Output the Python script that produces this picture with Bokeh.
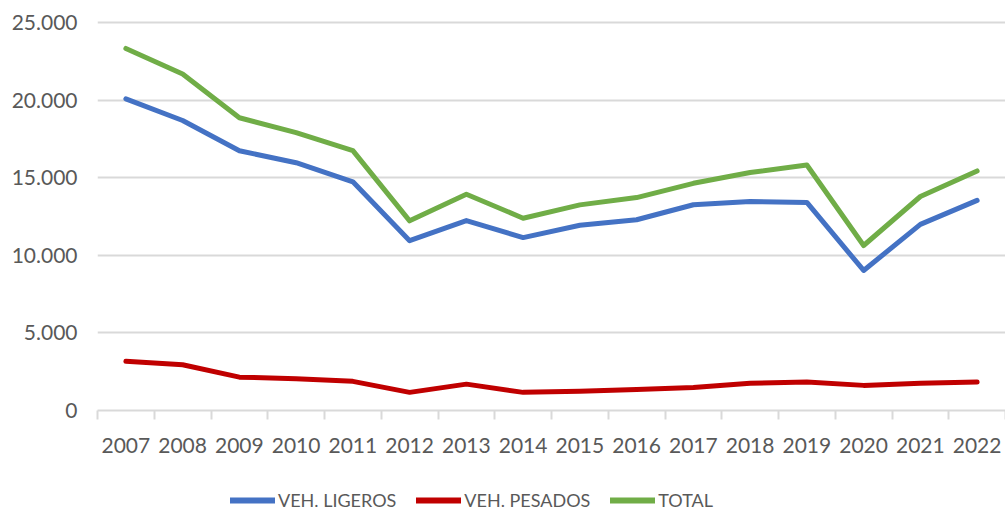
from bokeh.plotting import figure
from bokeh.layouts import column
from bokeh.models import Range1d, FixedTicker, Legend, LegendItem
from bokeh.embed import file_html
from bokeh.resources import INLINE

years = ["2007", "2008", "2009", "2010", "2011", "2012", "2013", "2014",
         "2015", "2016", "2017", "2018", "2019", "2020", "2021", "2022"]
ligeros = [20100, 18700, 16750, 15980, 14750, 10950, 12250, 11150,
           11950, 12300, 13270, 13480, 13420, 9030, 12000, 13550]
pesados = [3170, 2950, 2150, 2050, 1880, 1170, 1700, 1170,
           1240, 1350, 1480, 1760, 1840, 1620, 1760, 1830]
total = [23350, 21700, 18880, 17920, 16760, 12230, 13950, 12400,
         13260, 13730, 14650, 15350, 15830, 10640, 13800, 15450]
series_names = ["VEH. LIGEROS", "VEH. PESADOS", "TOTAL"]
y_ticks = [0, 5000, 10000, 15000, 20000, 25000]
y_labels = ["0", "5.000", "10.000", "15.000", "20.000", "25.000"]

FONT = "Lato"
TXT = "#595959"
GRID = "#d9d9d9"
COLORS = ["#4472C4", "#C00000", "#70AD47"]

idx = list(range(len(years)))

p = figure(width=1005, height=460, output_backend="svg", toolbar_location=None,
           x_range=Range1d(-0.5, len(years) - 0.5), y_range=Range1d(0, 25150),
           min_border_left=97, min_border_right=0, min_border_top=20,
           min_border_bottom=50)
p.outline_line_color = None

# y axis
p.yaxis.ticker = FixedTicker(ticks=y_ticks)
p.yaxis.major_label_overrides = {t: l for t, l in zip(y_ticks, y_labels)}
p.yaxis.axis_line_color = None
p.yaxis.major_tick_line_color = None
p.yaxis.minor_tick_line_color = None
p.yaxis.major_tick_out = 0
p.yaxis.major_tick_in = 0
p.yaxis.major_label_standoff = 20
p.yaxis.major_label_text_font = FONT
p.yaxis.major_label_text_font_size = "21px"
p.yaxis.major_label_text_color = TXT
p.ygrid.grid_line_color = GRID
p.ygrid.grid_line_width = 2

# x axis
p.xaxis.ticker = FixedTicker(ticks=idx, minor_ticks=[i - 0.5 for i in range(len(years) + 1)])
p.xaxis.major_label_overrides = {i: y for i, y in zip(idx, years)}
p.xaxis.axis_line_color = GRID
p.xaxis.axis_line_width = 2
p.xaxis.major_tick_line_color = None
p.xaxis.major_tick_out = 0
p.xaxis.major_tick_in = 0
p.xaxis.minor_tick_line_color = GRID
p.xaxis.minor_tick_line_width = 2
p.xaxis.minor_tick_out = 9
p.xaxis.minor_tick_in = 0
p.xaxis.major_label_standoff = 18
p.xaxis.major_label_text_font = FONT
p.xaxis.major_label_text_font_size = "21px"
p.xaxis.major_label_text_color = TXT
p.xgrid.grid_line_color = None

for vals, col in zip([ligeros, pesados, total], COLORS):
    p.line(idx, vals, line_color=col, line_width=5, line_join="round", line_cap="round")

# legend strip below the chart
pl = figure(width=1005, height=51, output_backend="svg", toolbar_location=None,
            x_range=Range1d(0, 1), y_range=Range1d(0, 1),
            x_axis_location=None, y_axis_location=None,
            min_border_left=0, min_border_right=0, min_border_top=0, min_border_bottom=0)
pl.outline_line_color = None
pl.grid.visible = False
items = []
nan = float("nan")
for name, col in zip(series_names, COLORS):
    r = pl.line([nan], [nan], line_color=col, line_width=6, line_cap="round")
    items.append(LegendItem(label=name, renderers=[r]))
legend = Legend(items=items, orientation="horizontal", location=(133, 0),
                glyph_width=45, glyph_height=20, label_standoff=3, spacing=20,
                padding=0, margin=0, border_line_color=None,
                background_fill_alpha=0,
                label_text_font=FONT, label_text_font_size="18px",
                label_text_color=TXT)
pl.add_layout(legend, "center")

layout = column(p, pl, spacing=0)
open("out.html", "w").write(file_html(layout, INLINE))
